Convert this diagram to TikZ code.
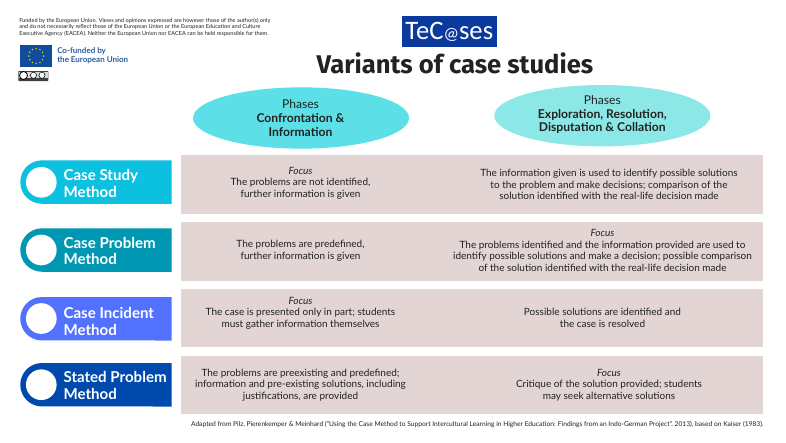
\documentclass[tikz,border=0pt]{standalone}
\usepackage{fontspec}
\setmainfont{Lato}
\newfontfamily\titlefont{Fira Sans}
\newfontfamily\logofont{Carlito}
\usetikzlibrary{shapes.geometric,shapes.misc}
\definecolor{rowbg}{HTML}{E2D5D4}
\definecolor{txt}{HTML}{222222}
\definecolor{ellA}{HTML}{5CDFE6}
\definecolor{ellB}{HTML}{8BE8E6}
\definecolor{pillA}{HTML}{0CC0DF}
\definecolor{pillB}{HTML}{0097B2}
\definecolor{pillC}{HTML}{5271FF}
\definecolor{pillD}{HTML}{004AAD}
\definecolor{eublue}{HTML}{0F4C9C}
\definecolor{eutext}{HTML}{2A5D9C}
\definecolor{logoblue}{HTML}{0A3A9E}
\definecolor{euyellow}{HTML}{E8D820}
\tikzset{
  x=0.75pt,y=-0.75pt,
  rowbox/.style={fill=rowbg,draw=none},
  celltext/.style={align=center,text=txt,font=\fontsize{7.5}{8.63}\selectfont,inner sep=0pt},
  phasetext/.style={align=center,text=txt,font=\fontsize{9.1}{10.2}\selectfont,inner sep=0pt},
  pilltext/.style={anchor=west,align=left,text=white,inner sep=0pt,font=\fontsize{11.3}{12.5}\selectfont\bfseries},
  dot/.style={circle,fill=white,draw=none,minimum size=23pt,inner sep=0pt},
  small/.style={anchor=west,align=left,text=txt,inner sep=0pt,font=\fontsize{4.2}{5.1}\selectfont},
  phase/.style={ellipse,minimum width=162pt,minimum height=46pt,inner sep=0pt},
}
\newcommand{\pillshape}[3]{%
  \fill[#1] (171.7,#2) -- (42,#2) arc[start angle=90,end angle=270,radius=16.3pt] -- (171.7,#3) -- cycle;}
\begin{document}
\begin{tikzpicture}
\useasboundingbox (0,0) rectangle (786,443);
\fill[white] (0,0) rectangle (786,443);
% disclaimer
\node[small] (disclaimer) at (19,27.2) {Funded by the European Union. Views and opinions expressed are however those of the author(s) only\\and do not necessarily reflect those of the European Union or the European Education and Culture\\Executive Agency (EACEA). Neither the European Union nor EACEA can be held responsible for them.};
% EU flag
\fill[eublue] (20,45.3) rectangle (52.3,66.7);
\foreach \a in {0,30,...,330}
  \fill[euyellow] ({36.2+7.5*cos(\a)},{56+7.5*sin(\a)}) circle[radius=0.6pt];
\node[anchor=west,align=left,inner sep=0pt,text=eutext,font=\fontsize{6}{6.75}\selectfont\bfseries] (cofunded) at (57,55.5) {Co-funded by\\the European Union};
% CC badge
\fill[black!75,rounded corners=0.5pt] (18.3,71) rectangle (48.3,81);
\fill[white!85!black] (19.1,71.8) rectangle (47.5,78);
\fill[white,draw=black,line width=0.6pt] (23.5,75.5) circle[radius=3pt];
\foreach \cx in {33.5,42}
  \fill[white,draw=black,line width=0.4pt] (\cx,75.3) circle[radius=2.3pt];
% logo
\fill[logoblue] (401.7,15.7) rectangle (496.7,47);
\node[text=white,inner sep=0pt,font=\fontsize{20}{22}\logofont] (logo) at (449.3,32) {TeC{\fontsize{13}{13}\selectfont @}ses};
% title
\node[text=txt,inner sep=0pt,font=\fontsize{19.2}{21}\titlefont\bfseries] (title) at (455,63) {Variants of case studies};
% ellipses
\node[phase,fill=ellA] (ph1) at (301,118) {};
\node[phasetext] at (300.5,118) {Phases\\{\bfseries Confrontation \&}\\{\bfseries Information}};
\node[phase,fill=ellB] (ph2) at (602.3,115.7) {};
\node[phasetext] at (602.3,114.7) {Phases\\{\bfseries Exploration, Resolution,}\\{\bfseries Disputation \& Collation}};
% rows
\fill[rowbg] (181,155) rectangle (762.5,213.5);
\fill[rowbg] (181,222) rectangle (762.5,280.5);
\fill[rowbg] (181,289) rectangle (762.5,347.3);
\fill[rowbg] (181,355.7) rectangle (762.5,414);
% pills
\pillshape{pillA}{160.3}{204}
\pillshape{pillB}{228.3}{271.8}
\pillshape{pillC}{297}{340.5}
\pillshape{pillD}{363}{406.5}
\node[dot] (d1) at (41.3,182.3) {};
\node[dot] (d2) at (41.3,250) {};
\node[dot] (d3) at (41.3,318.5) {};
\node[dot] (d4) at (41.3,384.7) {};
\node[pilltext] at (63.3,183.3) {Case Study\\Method};
\node[pilltext] at (63.3,251) {Case Problem\\Method};
\node[pilltext] at (63.3,321.5) {Case Incident\\Method};
\node[pilltext] at (63.3,385.7) {Stated Problem\\Method};
% cells
\node[celltext] (c11) at (300.5,183) {\textit{Focus}\\The problems are not identified,\\further information is given};
\node[celltext] (c12) at (609,184.7) {The information given is used to identify possible solutions\\to the problem and make decisions; comparison of the\\solution identified with the real-life decision made};
\node[celltext] (c21) at (300.5,250.7) {The problems are predefined,\\further information is given};
\node[celltext] (c22) at (602.5,250.7) {\textit{Focus}\\The problems identified and the information provided are used to\\identify possible solutions and make a decision; possible comparison\\of the solution identified with the real-life decision made};
\node[celltext] (c31) at (300.5,313) {\textit{Focus}\\The case is presented only in part; students\\must gather information themselves};
\node[celltext] (c32) at (602.5,318) {Possible solutions are identified and\\the case is resolved};
\node[celltext] (c41) at (300.5,385) {The problems are preexisting and predefined;\\information and pre-existing solutions, including\\justifications, are provided};
\node[celltext] (c42) at (609,385) {\textit{Focus}\\Critique of the solution provided; students\\may seek alternative solutions};
% source
\node[anchor=west,inner sep=0pt,text=txt,font=\fontsize{5}{6}\selectfont] (source) at (190.8,425) {Adapted from Pilz, Pierenkemper \& Meinhard (“Using the Case Method to Support Intercultural Learning in Higher Education: Findings from an Indo-German Project”, 2013), based on Kaiser (1983).};
\end{tikzpicture}
\end{document}
